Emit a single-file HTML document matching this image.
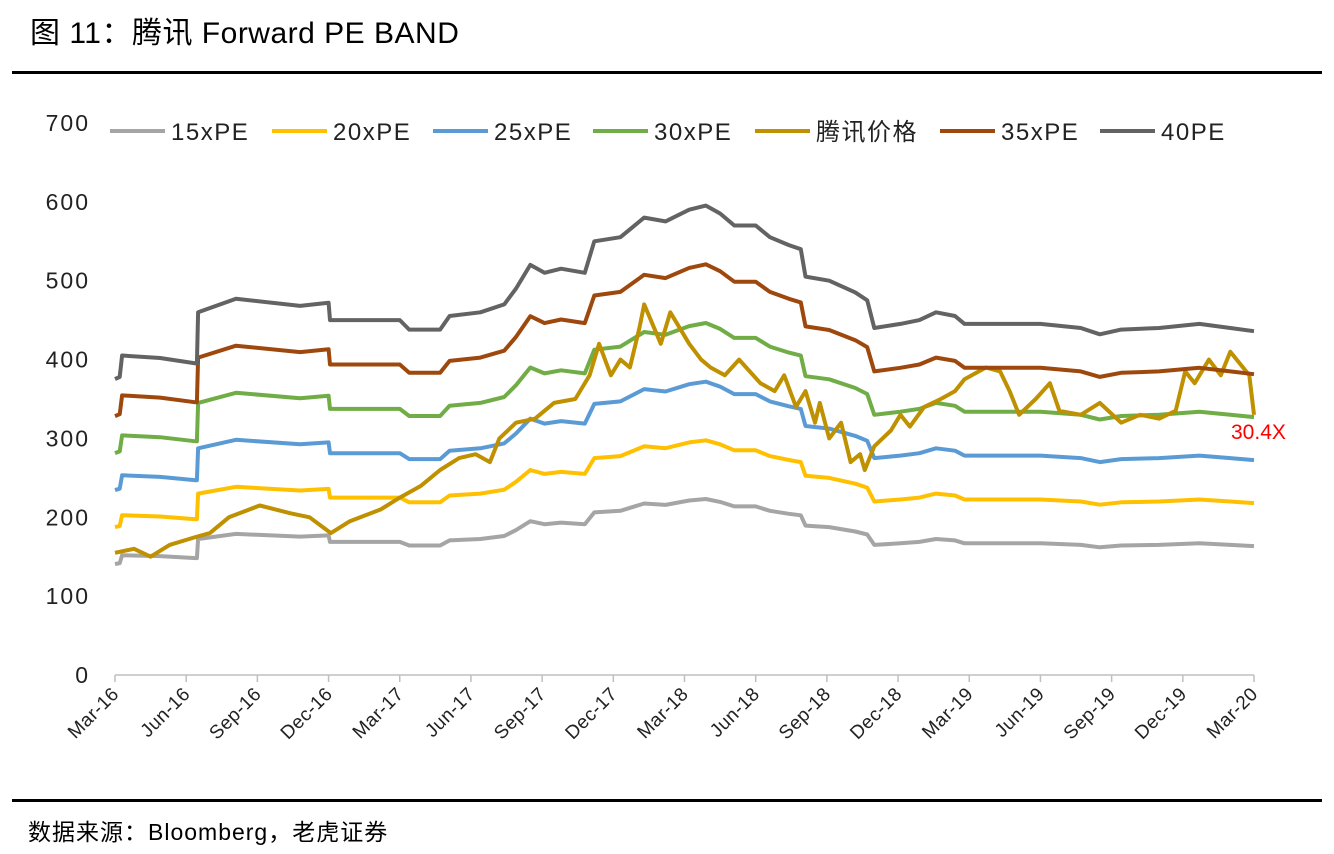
<!DOCTYPE html>
<html><head><meta charset="utf-8">
<style>
body{margin:0;background:#fff;width:1334px;height:854px;overflow:hidden;font-family:"Liberation Sans","Noto Sans CJK SC",sans-serif;}
.title{position:absolute;left:30px;top:8px;font-size:30px;letter-spacing:0.5px;color:#000;}
.rule{position:absolute;left:12px;width:1310px;height:3px;background:#000;}
.src{position:absolute;left:28px;top:813px;font-size:23px;letter-spacing:1px;color:#000;}
svg{position:absolute;left:0;top:0;}
</style></head>
<body>
<div class="title">图 11：腾讯 Forward PE BAND</div>
<div class="rule" style="top:71px"></div>
<div class="rule" style="top:799px"></div>
<div class="src">数据来源：Bloomberg，老虎证券</div>
<svg id="chart" width="1334" height="854"></svg>
<script>
// time in months since Mar-16
const epsT=[0,0.2,0.3,1.9,3.4,3.45,3.5,5.1,7.8,9.0,9.06,12.0,12.4,13.7,14.1,15.4,16.4,16.9,17.5,18.1,18.8,19.8,20.2,21.3,22.3,23.2,24.2,24.9,25.5,26.1,27.0,27.6,28.4,28.9,29.1,30.1,31.2,31.7,32.0,33.1,33.9,34.6,35.4,35.8,37.3,39.0,40.7,41.5,42.4,44.0,45.7,47.0,48];
const eps=[9.38,9.45,10.13,10.05,9.88,9.88,11.5,11.93,11.7,11.8,11.25,11.25,10.95,10.95,11.38,11.5,11.75,12.25,13.0,12.75,12.88,12.75,13.75,13.88,14.5,14.38,14.75,14.88,14.63,14.25,14.25,13.88,13.63,13.5,12.63,12.5,12.13,11.88,11.0,11.13,11.25,11.5,11.38,11.13,11.13,11.13,11.0,10.8,10.95,11.0,11.13,11.0,10.9];
const multiples=[15,20,25,30,35,40];
const bandNames=["15xPE","20xPE","25xPE","30xPE","35xPE","40PE"];
const priceT=[0,0.8,1.5,2.3,3.4,4.0,4.8,6.1,7.4,8.2,9.1,9.9,11.2,12.0,12.9,13.7,14.5,15.2,15.8,16.2,16.9,17.7,18.5,19.4,20.0,20.4,20.9,21.3,21.7,22.1,22.3,23.0,23.4,24.2,24.7,25.1,25.7,26.3,27.2,27.8,28.2,28.7,29.1,29.5,29.7,30.1,30.6,31.0,31.4,31.6,32.0,32.7,33.1,33.5,34.1,34.8,35.4,35.8,36.7,37.3,37.7,38.1,38.8,39.4,39.8,40.7,41.5,42.4,43.2,44.0,44.7,45.1,45.5,46.1,46.6,47.0,47.4,47.8,48];
const price=[155,160,150,165,175,180,200,215,205,200,180,195,210,225,240,260,275,280,270,300,320,325,345,350,380,420,380,400,390,440,470,420,460,420,400,390,380,400,370,360,380,340,360,320,345,300,320,270,280,260,290,310,330,315,340,350,360,375,390,385,360,330,350,370,335,330,345,320,330,325,335,385,370,400,380,410,395,380,330];
const yTicks=[0,100,200,300,400,500,600,700];
const xLabels=["Mar-16","Jun-16","Sep-16","Dec-16","Mar-17","Jun-17","Sep-17","Dec-17","Mar-18","Jun-18","Sep-18","Dec-18","Mar-19","Jun-19","Sep-19","Dec-19","Mar-20"];

const NS="http://www.w3.org/2000/svg";
const svg=document.getElementById('chart');
const X0=115,X1=1254,Y0=675,Y1=123;
const xS=m=>X0+(X1-X0)*m/48;
const yS=v=>Y0-(Y0-Y1)*v/700;
function el(t,a){const e=document.createElementNS(NS,t);for(const k in a)e.setAttribute(k,a[k]);svg.appendChild(e);return e;}
yTicks.forEach(v=>{const t=el('text',{x:90,y:yS(v)+8,'text-anchor':'end','font-size':23,'letter-spacing':2,fill:'#222'});t.textContent=v;

});
const ax=el('line',{x1:X0,x2:X1,y1:Y0,y2:Y0,stroke:'#bfbfbf','stroke-width':1.5});


xLabels.forEach((l,i)=>{const x=xS(i*3);
const tk=el('line',{x1:x,x2:x,y1:Y0,y2:Y0+7,stroke:'#bfbfbf','stroke-width':1.5});


const t=el('text',{x:x+5,y:Y0+20,'text-anchor':'end','font-size':19,'letter-spacing':0.5,fill:'#222',transform:`rotate(-45 ${x+5} ${Y0+20})`});t.textContent=l;

});
const colors={"15xPE":"#a5a5a5","20xPE":"#ffc000","25xPE":"#5b9bd5","30xPE":"#70ad47","35xPE":"#9e480e","40PE":"#636363","腾讯价格":"#bf9000"};
function path(ts,vs,c,name){const d=ts.map((t,i)=>(i?'L':'M')+xS(t).toFixed(1)+','+yS(vs[i]).toFixed(1)).join('');
const p=el('path',{d:d,fill:'none',stroke:c,'stroke-width':4,'stroke-linejoin':'round'});

}
multiples.forEach((m,i)=>{if(m===35||m===40)return;path(epsT,eps.map(e=>e*m),colors[bandNames[i]],'band-'+bandNames[i].toLowerCase());});
path(priceT,price,colors["腾讯价格"],'tencent-price-line');
multiples.forEach((m,i)=>{if(m<35)return;path(epsT,eps.map(e=>e*m),colors[bandNames[i]],'band-'+bandNames[i].toLowerCase());});
const legend=[["15xPE",110],["20xPE",272],["25xPE",433],["30xPE",593],["腾讯价格",755],["35xPE",940],["40PE",1100]];
legend.forEach(([n,x])=>{const l=el('line',{x1:x,x2:x+55,y1:131,y2:131,stroke:colors[n],'stroke-width':4});


const t=el('text',{x:x+61,y:140,'font-size':24,'letter-spacing':1.5,fill:'#222'});t.textContent=n;

});
const a=el('text',{x:1231,y:439,'font-size':21,fill:'#ff0000'});a.textContent='30.4X';


</script>
</body></html>
